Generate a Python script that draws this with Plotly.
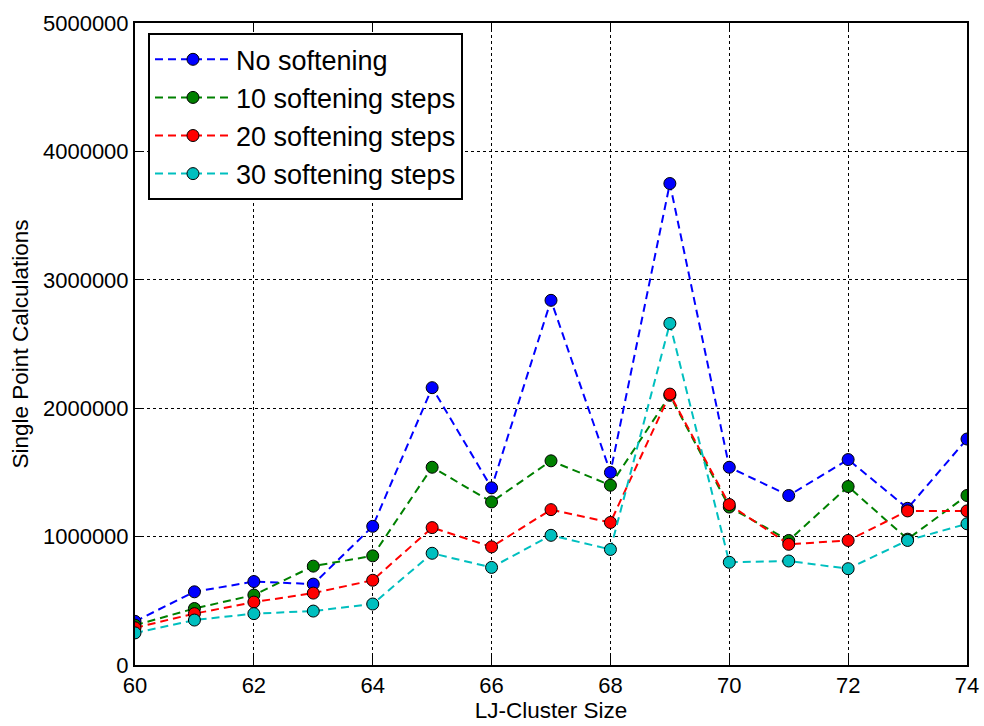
import plotly.graph_objects as go

sizes = list(range(60, 75))
no_soft = [340000, 570000, 650000, 630000, 1080000, 2160000, 1380000, 2840000, 1500000, 3750000, 1540000, 1320000, 1600000, 1220000, 1760000]
soft10 = [310000, 440000, 545000, 770000, 850000, 1540000, 1270000, 1590000, 1400000, 2100000, 1230000, 970000, 1390000, 980000, 1320000]
soft20 = [290000, 400000, 490000, 560000, 660000, 1070000, 920000, 1210000, 1110000, 2110000, 1250000, 940000, 970000, 1200000, 1200000]
soft30 = [250000, 350000, 400000, 420000, 475000, 870000, 760000, 1010000, 900000, 2660000, 800000, 810000, 750000, 970000, 1100000]

names = ["No softening", "10 softening steps", "20 softening steps", "30 softening steps"]
series = [no_soft, soft10, soft20, soft30]
colors = ["#0000FF", "#008000", "#FF0000", "#00BFBF"]
y_ticks = [0, 1000000, 2000000, 3000000, 4000000, 5000000]
x_ticks = list(range(60, 75, 2))

fig = go.Figure()
for i, (n, s, c) in enumerate(zip(names, series, colors)):
    fig.add_trace(go.Scatter(
        x=sizes, y=s, name=n, mode="lines+markers", legendgroup=f"g{i}",
        line=dict(color=c, width=2, dash="8px,5px"),
        marker=dict(color=c, size=12, line=dict(color="black", width=1)),
    ))

axis_common = dict(
    showline=True, linecolor="black", linewidth=2, mirror="ticks",
    ticks="inside", ticklen=9, tickwidth=1, tickcolor="black",
    showgrid=True, gridcolor="black", griddash="dot", gridwidth=1,
    zeroline=False, tickfont=dict(size=22, color="black"), automargin=False,
)

fig.update_layout(
    width=984, height=726,
    margin=dict(l=135, r=17, t=23, b=61),
    paper_bgcolor="white", plot_bgcolor="white",
    font=dict(family="Liberation Sans, Arial, sans-serif", color="black"),
    xaxis=dict(range=[60, 74], tickvals=x_ticks,
               title=dict(text="LJ-Cluster Size", font=dict(size=22.5), standoff=4),
               **axis_common),
    yaxis=dict(range=[0, 5000000], tickvals=y_ticks, ticktext=[str(v) for v in y_ticks],
               title=dict(text="Single Point Calculations", font=dict(size=22.5), standoff=8),
               **axis_common),
    legend=dict(x=0.0156, y=0.984, xanchor="left", yanchor="top",
                bgcolor="white", bordercolor="black", borderwidth=2,
                font=dict(size=27), tracegroupgap=0, itemwidth=76),
    showlegend=True,
)

fig.write_html("out.html")
